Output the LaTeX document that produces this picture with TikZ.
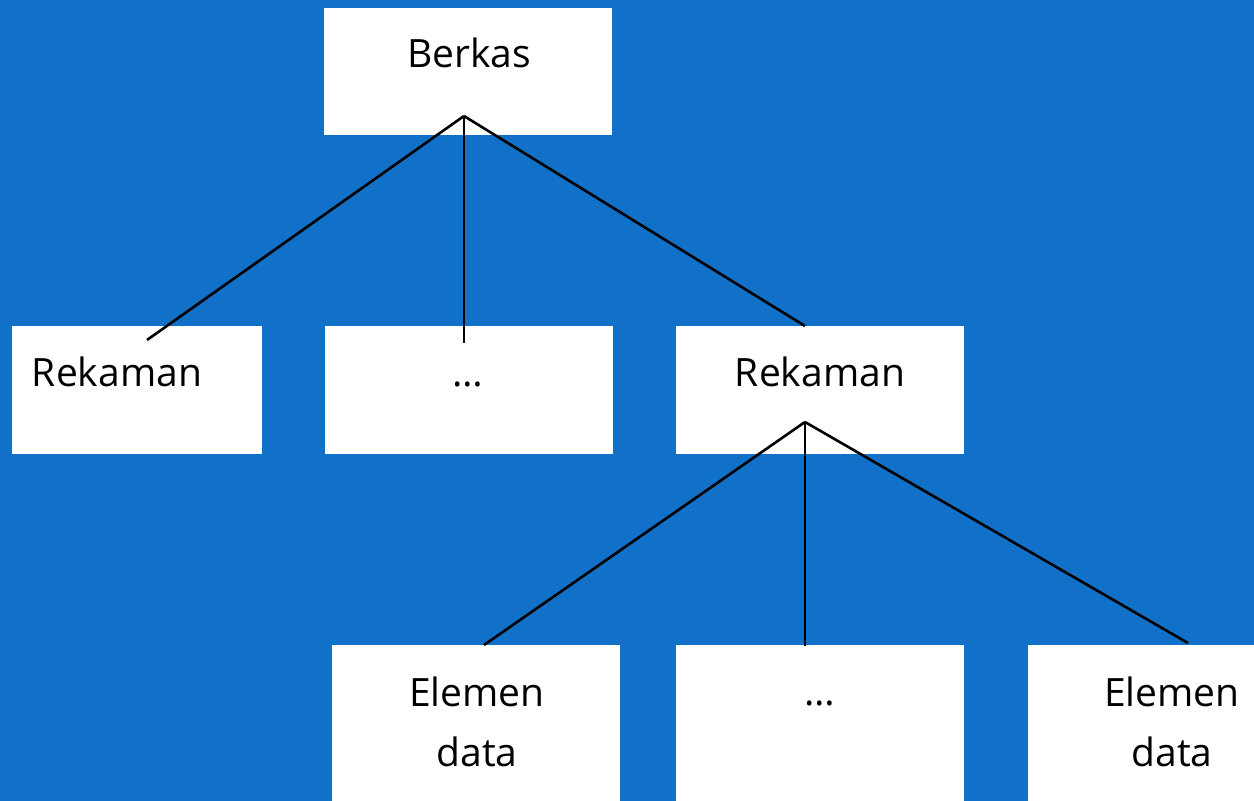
\documentclass[tikz,border=0pt]{standalone}
\usepackage{fontspec}
\setmainfont{Open Sans}
\definecolor{bgblue}{RGB}{17,112,200}
\begin{document}
\begin{tikzpicture}[x=1pt,y=-1pt,
  box/.style={draw=none,fill=white,inner sep=0pt,outer sep=0pt},
  lbl/.style={inner sep=0pt,font=\fontsize{39}{58}\selectfont,align=center,anchor=center},
  conn/.style={draw=black,line width=2.6pt}]
\fill[bgblue] (0,0) rectangle (1254,801);
\useasboundingbox (0,0) rectangle (1254,801);
% boxes
\node[box,minimum width=288pt,minimum height=127pt] (berkas) at (468,71.5) {};
\node[box,minimum width=250pt,minimum height=128pt] (rek1) at (137,390) {};
\node[box,minimum width=288pt,minimum height=128pt] (dots1) at (469,390) {};
\node[box,minimum width=288pt,minimum height=128pt] (rek2) at (820,390) {};
\node[box,minimum width=288pt,minimum height=180pt] (el1) at (476,735) {};
\node[box,minimum width=288pt,minimum height=180pt] (dots2) at (820,735) {};
\node[box,minimum width=288pt,minimum height=180pt] (el2) at (1172,735) {};
% texts
\node[lbl] (tberkas) at (469,53) {Berkas};
\node[lbl] (trek1) at (117,372) {Rekaman};
\node[lbl] (tdots1) at (468,384) {\ldots};
\node[lbl] (trek2) at (820,372) {Rekaman};
\node[lbl] (tel1a) at (477,692) {Elemen};
\node[lbl] (tel1b) at (477,752) {data};
\node[lbl] (tdots2) at (820,703) {\ldots};
\node[lbl] (tel2a) at (1172,692) {Elemen};
\node[lbl] (tel2b) at (1172,752) {data};
% connector points
\coordinate (apex1) at (464,116);
\coordinate (apex2) at (805,422);
\coordinate (e1) at (147,340);
\coordinate (e2) at (464,343);
\coordinate (e3) at (805,326);
\coordinate (f1) at (484,645);
\coordinate (f2) at (805,646);
\coordinate (f3) at (1188,643);
\draw[conn] (apex1) -- (e1);
\draw[conn] (apex1) -- (e2);
\draw[conn] (apex1) -- (e3);
\draw[conn] (apex2) -- (f1);
\draw[conn] (apex2) -- (f2);
\draw[conn] (apex2) -- (f3);
\end{tikzpicture}
\end{document}
